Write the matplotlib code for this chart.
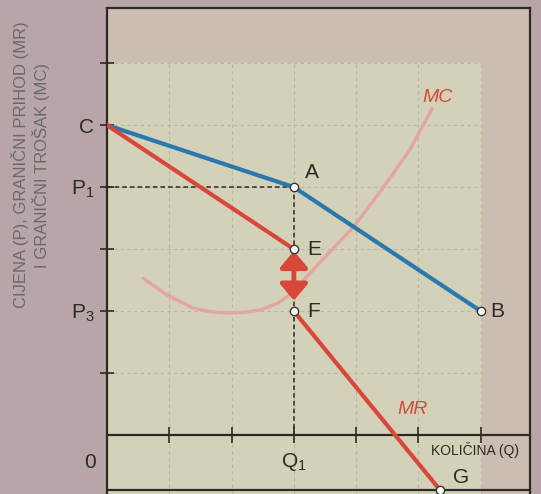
import matplotlib.pyplot as plt

plt.rcParams["font.family"] = ["Liberation Sans", "DejaVu Sans"]
plt.rcParams["mathtext.fontset"] = "custom"
plt.rcParams["mathtext.rm"] = "Liberation Sans"
plt.rcParams["mathtext.it"] = "Liberation Sans:italic"

# demand (kinked) C -> A -> B
demand_q = [0, 3, 6]
demand_p = [5, 4, 2]
# marginal revenue: C -> E, gap, F -> G
mr_upper_q = [0, 3]
mr_upper_p = [5, 3]
mr_lower_q = [3, 5.35]
mr_lower_p = [2, -0.89]
# marginal cost curve
mc_q = [0.58, 0.95, 1.38, 1.65, 1.93, 2.2, 2.46, 2.75, 2.99, 3.42, 3.95, 4.38, 4.86, 5.22]
mc_p = [2.53, 2.27, 2.05, 1.99, 1.97, 1.98, 2.02, 2.13, 2.31, 2.79, 3.35, 3.92, 4.6, 5.27]

points = {"A": (3, 4), "E": (3, 3), "F": (3, 2), "B": (6, 2), "G": (5.35, -0.89)}
label_pos = {"A": (3.17, 4.24), "E": (3.22, 3.0), "F": (3.22, 2.0),
             "B": (6.15, 2.0), "G": (5.55, -0.69)}

ytick_vals = [1, 2, 3, 4, 5, 6]
ytick_labels = ["", "P$_{\\mathrm{3}}$", "", "P$_{\\mathrm{1}}$", "C", ""]
xtick_vals = [1, 2, 3, 4, 5, 6]

blue = "#2a78ad"
red = "#d8473a"
pink = "#e3a4a2"

fig = plt.figure(figsize=(5.41, 4.94), dpi=100, facecolor="#b8a5a7")
ax = fig.add_axes([107 / 541, 0, (530 - 107) / 541, (494 - 8) / 494])
ax.set_facecolor("#cbbdb2")
ax.set_xlim(0, 6.79)
ax.set_ylim(-0.95, 6.89)

# light grid panel
ax.fill_between([0, 6], -0.95, 6, color="#d3d1b8", zorder=0)
for v in xtick_vals:
    ax.plot([v, v], [-0.95, 6], color="#b4b6a8", lw=0.8, ls=(0, (3, 3)), zorder=1)
for v in ytick_vals:
    ax.plot([0, 6], [v, v], color="#b4b6a8", lw=0.8, ls=(0, (3, 3)), zorder=1)

for s in ["left", "top", "right"]:
    ax.spines[s].set_linewidth(1.6)
    ax.spines[s].set_color("#2d2a26")
ax.spines["bottom"].set_visible(False)
ax.axhline(0, color="#2d2a26", lw=1.6, zorder=3)
ax.axhline(-0.89, color="#2d2a26", lw=1.6, zorder=3)

ax.set_yticks(ytick_vals, labels=ytick_labels)
ax.tick_params(axis="y", direction="inout", length=10, width=1.2,
               labelsize=15, colors="#2d2a26", pad=4)
ax.set_xticks([])
ax.plot(xtick_vals, [0] * len(xtick_vals), ls="none", marker="|",
        ms=11, mew=1.2, color="#2d2a26", zorder=3, clip_on=False)

# dashed guides
ax.plot([0, 3], [4, 4], color="#2d2a26", lw=1.1, ls=(0, (3, 2)), zorder=3)
ax.plot([3, 3], [4, 0], color="#2d2a26", lw=1.1, ls=(0, (3, 2)), zorder=3)

# curves
ax.plot(mc_q, mc_p, color=pink, lw=2.4, solid_capstyle="round", zorder=4)
ax.plot(demand_q, demand_p, color=blue, lw=3, zorder=5)
ax.plot(mr_upper_q, mr_upper_p, color=red, lw=3, zorder=5)
ax.plot(mr_lower_q, mr_lower_p, color=red, lw=3, zorder=5)

ax.annotate("", xy=(3, 2.97), xytext=(3, 2.17),
            arrowprops=dict(arrowstyle="<|-|>,head_length=0.5,head_width=0.42",
                            lw=3.5, color=red, mutation_scale=20,
                            shrinkA=0, shrinkB=0),
            zorder=6)

for name, (px, py) in points.items():
    ax.plot(px, py, marker="o", ms=6, mfc="white", mec="#3a3530", mew=1,
            zorder=7, clip_on=False)
    lx, ly = label_pos[name]
    ax.text(lx, ly, name, fontsize=15, color="#2d2a26", ha="left", va="center")

ax.text(5.3, 5.45, "MC", fontsize=14, style="italic", color=red,
        ha="center", va="center")
ax.text(4.9, 0.42, "MR", fontsize=14, style="italic", color=red,
        ha="center", va="center")
ax.text(3, -0.44, "Q$_{\\mathrm{1}}$", fontsize=15, color="#2d2a26",
        ha="center", va="center")
ax.text(5.2, -0.24, "KOLIČINA (Q)", fontsize=10, color="#2d2a26",
        ha="left", va="center")
ax.text(-0.27, -0.44, "0", fontsize=15, color="#2d2a26",
        ha="center", va="center", clip_on=False)

fig.text(31 / 541, 1 - 165 / 494,
         "CIJENA (P), GRANIČNI PRIHOD (MR)\nI GRANIČNI TROŠAK (MC)",
         rotation=90, fontsize=12, color="#6b6670", ha="center", va="center",
         linespacing=1.2)

fig.savefig("out.png", dpi=100, facecolor=fig.get_facecolor())
